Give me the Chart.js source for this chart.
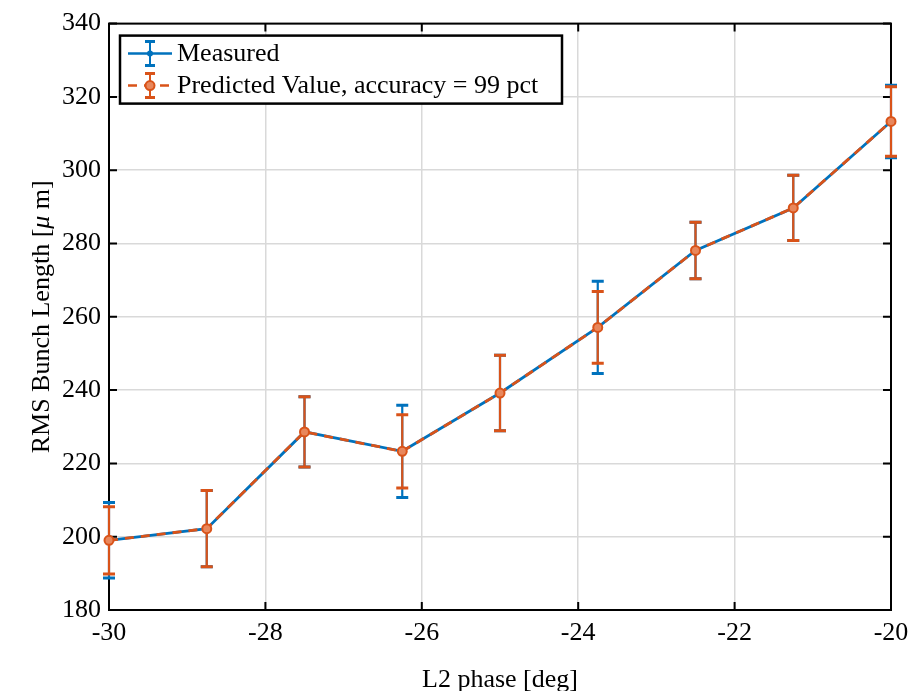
<!DOCTYPE html>
<html>
<head>
<meta charset="utf-8">
<script src="https://cdn.jsdelivr.net/npm/chart.js@4.4.0/dist/chart.umd.min.js"></script>
<style>
    html, body { margin: 0; padding: 0; background: #fff; }
    #wrap { width: 917px; height: 691px; }
</style>
</head>
<body>
<div id="wrap"><canvas id="chart" width="917" height="691"></canvas></div>
<script>
// Datos
const phases = [-30, -28.75, -27.5, -26.25, -25, -23.75, -22.5, -21.25, -20];
const measured = [199.0, 202.2, 228.6, 223.3, 239.2, 257.1, 278.1, 289.7, 313.3];
const measuredErr = [10.3, 10.4, 9.6, 12.6, 10.3, 12.6, 7.7, 8.9, 9.9];
const predicted = [199.0, 202.2, 228.6, 223.3, 239.2, 257.1, 278.1, 289.7, 313.3];
const predictedErr = [9.2, 10.4, 9.6, 10.0, 10.3, 9.8, 7.7, 8.9, 9.5];
const xTicks = [-30, -28, -26, -24, -22, -20];
const yTicks = [180, 200, 220, 240, 260, 280, 300, 320, 340];

const BLUE = '#0072BD';
const ORANGE = '#D95319';
const FONT = "'Liberation Serif', 'Times New Roman', serif";
const FONT_SIZE = 26;

const toPoints = (values) => phases.map((x, i) => ({ x, y: values[i] }));

/**
 * Dibuja las barras de error antes de cada linea
 */
const errorBarsPlugin = {
    id: 'errorBars',
    beforeDatasetDraw(chart, args) {
        const ds = chart.data.datasets[args.index];
        if (!ds.errors) return;
        const { x, y } = chart.scales;
        const ctx = chart.ctx;
        ctx.save();
        ctx.strokeStyle = ds.borderColor;
        ds.data.forEach((p, i) => {
            const px = x.getPixelForValue(p.x);
            const top = y.getPixelForValue(p.y + ds.errors[i]);
            const bot = y.getPixelForValue(p.y - ds.errors[i]);
            ctx.lineWidth = 2.2;
            ctx.beginPath();
            ctx.moveTo(px, top);
            ctx.lineTo(px, bot);
            ctx.stroke();
            ctx.lineWidth = 3;
            ctx.beginPath();
            ctx.moveTo(px - 6, top); ctx.lineTo(px + 6, top);
            ctx.moveTo(px - 6, bot); ctx.lineTo(px + 6, bot);
            ctx.stroke();
        });
        ctx.restore();
    }
};

/**
 * Marco de los ejes con marcas hacia dentro (estilo MATLAB)
 */
const framePlugin = {
    id: 'frame',
    beforeDatasetsDraw(chart) {
        const { ctx, chartArea: a, scales: { x, y } } = chart;
        const len = 8;
        ctx.save();
        ctx.strokeStyle = '#000';
        ctx.lineWidth = 2;
        ctx.strokeRect(a.left, a.top, a.right - a.left, a.bottom - a.top);
        ctx.beginPath();
        x.ticks.forEach(t => {
            const px = x.getPixelForValue(t.value);
            ctx.moveTo(px, a.bottom); ctx.lineTo(px, a.bottom - len);
            ctx.moveTo(px, a.top); ctx.lineTo(px, a.top + len);
        });
        y.ticks.forEach(t => {
            const py = y.getPixelForValue(t.value);
            ctx.moveTo(a.left, py); ctx.lineTo(a.left + len, py);
            ctx.moveTo(a.right, py); ctx.lineTo(a.right - len, py);
        });
        ctx.stroke();
        ctx.restore();
    },
    afterDraw(chart) {
        // Titulo del eje Y con mu en cursiva
        const { ctx, chartArea: a } = chart;
        const parts = [
            { text: 'RMS Bunch Length [', style: '' },
            { text: '\u03bc', style: 'italic ' },
            { text: ' m]', style: '' }
        ];
        ctx.save();
        let total = 0;
        parts.forEach(p => {
            ctx.font = `${p.style}${FONT_SIZE}px ${FONT}`;
            p.w = ctx.measureText(p.text).width;
            total += p.w;
        });
        ctx.translate(42, (a.top + a.bottom) / 2);
        ctx.rotate(-Math.PI / 2);
        ctx.fillStyle = '#000';
        ctx.textBaseline = 'middle';
        let cx = -total / 2;
        parts.forEach(p => {
            ctx.font = `${p.style}${FONT_SIZE}px ${FONT}`;
            ctx.fillText(p.text, cx, 0);
            cx += p.w;
        });
        ctx.restore();
    }
};

/**
 * Leyenda con recuadro dentro del area del grafico
 */
const legendPlugin = {
    id: 'boxLegend',
    afterDraw(chart) {
        const { ctx, chartArea: a } = chart;
        const bx = a.left + 11, by = a.top + 12, bw = 442, bh = 68;
        ctx.save();
        ctx.fillStyle = '#fff';
        ctx.fillRect(bx, by, bw, bh);
        ctx.strokeStyle = '#000';
        ctx.lineWidth = 2.5;
        ctx.strokeRect(bx, by, bw, bh);

        chart.data.datasets.forEach((ds, i) => {
            const cy = by + 18 + i * 32;
            const x0 = bx + 8, x1 = bx + 52, xm = (x0 + x1) / 2;
            ctx.strokeStyle = ds.borderColor;
            ctx.lineWidth = 2.5;
            ctx.setLineDash(ds.borderDash || []);
            ctx.beginPath();
            ctx.moveTo(x0, cy); ctx.lineTo(x1, cy);
            ctx.stroke();
            ctx.setLineDash([]);
            ctx.lineWidth = 2;
            ctx.beginPath();
            ctx.moveTo(xm, cy - 12); ctx.lineTo(xm, cy + 12);
            ctx.stroke();
            ctx.lineWidth = 3;
            ctx.beginPath();
            ctx.moveTo(xm - 5, cy - 12); ctx.lineTo(xm + 5, cy - 12);
            ctx.moveTo(xm - 5, cy + 12); ctx.lineTo(xm + 5, cy + 12);
            ctx.stroke();
            ctx.beginPath();
            ctx.arc(xm, cy, ds.pointRadius, 0, Math.PI * 2);
            ctx.fillStyle = ds.pointBackgroundColor;
            ctx.fill();
            if (ds.pointBorderWidth) {
                ctx.lineWidth = ds.pointBorderWidth;
                ctx.stroke();
            }
            ctx.fillStyle = '#000';
            ctx.font = `${FONT_SIZE}px ${FONT}`;
            ctx.textBaseline = 'middle';
            ctx.fillText(ds.label, bx + 57, cy + 1);
        });
        ctx.restore();
    }
};

new Chart(document.getElementById('chart'), {
    type: 'line',
    data: {
        datasets: [
            {
                label: 'Measured',
                data: toPoints(measured),
                errors: measuredErr,
                borderColor: BLUE,
                borderWidth: 2.8,
                pointRadius: 3,
                pointBackgroundColor: BLUE,
                pointBorderWidth: 0,
                tension: 0,
                clip: false,
                order: 2
            },
            {
                label: 'Predicted Value, accuracy = 99 pct',
                data: toPoints(predicted),
                errors: predictedErr,
                borderColor: ORANGE,
                borderWidth: 2.8,
                borderDash: [9, 7],
                pointRadius: 4.5,
                pointBackgroundColor: '#e8875c',
                pointBorderColor: ORANGE,
                pointBorderWidth: 2,
                tension: 0,
                clip: false,
                order: 1
            }
        ]
    },
    options: {
        responsive: false,
        animation: false,
        layout: { padding: { left: 0, right: 26, top: 22, bottom: 0 } },
        plugins: {
            legend: { display: false },
            tooltip: { enabled: false }
        },
        scales: {
            x: {
                type: 'linear',
                min: -30,
                max: -20,
                afterBuildTicks: (scale) => { scale.ticks = xTicks.map(v => ({ value: v })); },
                afterFit: (scale) => { scale.height = 81; },
                grid: { color: '#d9d9d9', lineWidth: 1.5, drawTicks: false },
                border: { display: false },
                ticks: {
                    color: '#000',
                    padding: 8,
                    maxRotation: 0,
                    font: { family: FONT, size: FONT_SIZE }
                },
                title: {
                    display: true,
                    text: 'L2 phase [deg]',
                    color: '#000',
                    padding: { top: 0, bottom: 0 },
                    font: { family: FONT, size: FONT_SIZE, lineHeight: 0.8 }
                }
            },
            y: {
                min: 180,
                max: 340,
                afterBuildTicks: (scale) => { scale.ticks = yTicks.map(v => ({ value: v })); },
                afterFit: (scale) => { scale.width = 109; },
                grid: { color: '#d9d9d9', lineWidth: 1.5, drawTicks: false },
                border: { display: false },
                ticks: {
                    color: '#000',
                    padding: 8,
                    font: { family: FONT, size: FONT_SIZE }
                }
            }
        }
    },
    plugins: [errorBarsPlugin, framePlugin, legendPlugin]
});
</script>
</body>
</html>
